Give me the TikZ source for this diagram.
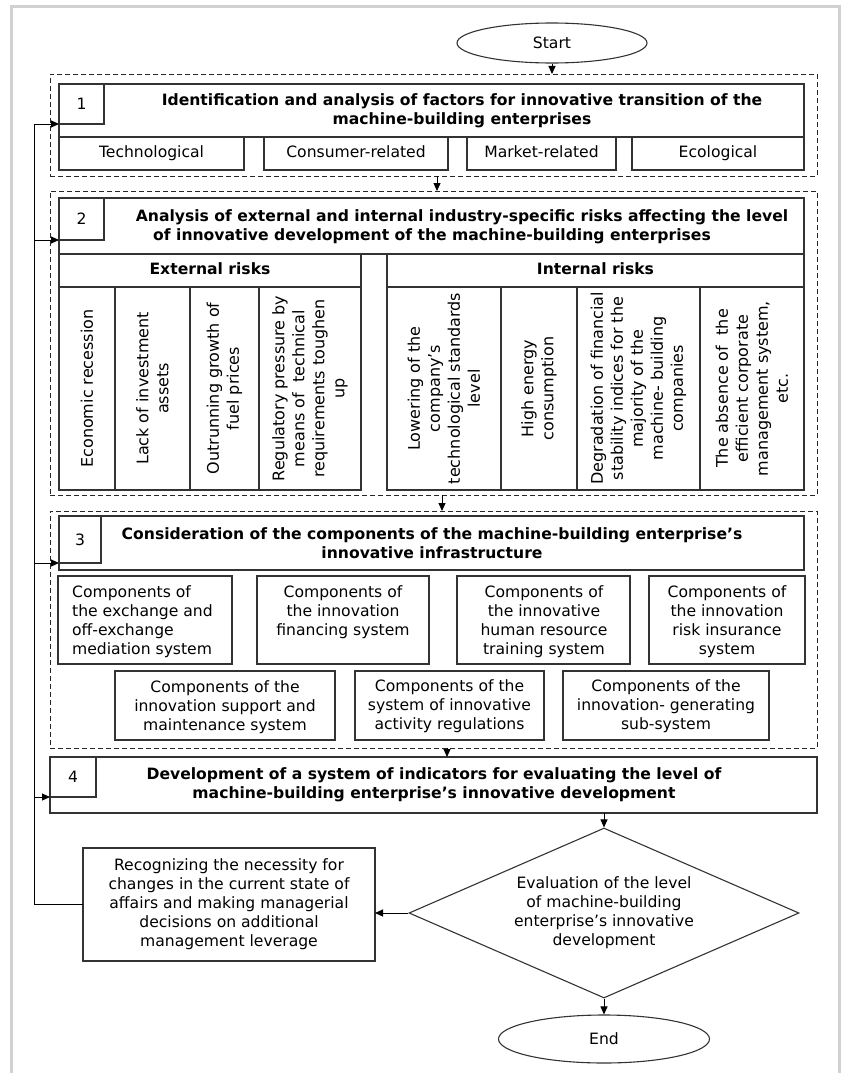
\documentclass[tikz,border=0pt]{standalone}
\usepackage{fontspec}
\setmainfont{DejaVu Sans}
\usetikzlibrary{arrows.meta,shapes.geometric}
\newcommand\mybox[6]{\node[box,minimum width={(#4-#2)*1pt},minimum height={(#5-#3)*1pt}] (#1) at ({(#2+#4)/2},{(#3+#5)/2}) {#6};}
\newcommand\mydbox[5]{\node[dbox,minimum width={(#4-#2)*1pt},minimum height={(#5-#3)*1pt}] (#1) at ({(#2+#4)/2},{(#3+#5)/2}) {};}
\begin{document}
\begin{tikzpicture}[x=1pt,y=-1pt,
  box/.style={draw=black!80, line width=1.1pt, inner sep=0pt, outer sep=0pt, align=center, font=\fontsize{15.6}{19}\selectfont},
  dbox/.style={draw=black!85, line width=1pt, dash pattern=on 5pt off 3pt, inner sep=0pt, outer sep=0pt},
  txt/.style={align=center, inner sep=0pt, font=\fontsize{15.6}{19}\selectfont},
  btxt/.style={align=center, inner sep=0pt, font=\fontsize{15.6}{19}\selectfont\bfseries},
  rtxt/.style={align=center, inner sep=0pt, rotate=90, font=\fontsize{16}{20}\selectfont},
  arr/.style={-{Triangle[length=8pt,width=7pt]}, line width=1pt, draw=black},
  conn/.style={line width=1pt, draw=black},
  oval/.style={ellipse, draw=black!80, line width=1.1pt, inner sep=0pt, font=\fontsize{15.6}{19}\selectfont}]
\useasboundingbox (0,0) rectangle (849,1073);
\fill[white] (0,0) rectangle (849,1073);
\draw[black!18, line width=3pt] (11,1090) -- (11,7) -- (839,7) -- (839,1090);

% Start
\node[oval, minimum width=190pt, minimum height=40pt] (start) at (552,43) {Start};

% ---- Block 1
\mydbox{d1}{50}{74}{817}{176}
\mybox{h1}{59}{84}{804}{137}{}
\mybox{n1}{59}{84}{104}{124}{1}
\node[btxt] (h1t) at (462,110.5) {Identification and analysis of factors for innovative transition of the\\machine-building enterprises};
\mybox{f1}{59}{137}{244}{170}{\strut Technological}
\mybox{f2}{264}{137}{448}{170}{\strut Consumer-related}
\mybox{f3}{467}{137}{616}{170}{\strut Market-related}
\mybox{f4}{632}{137}{804}{170}{\strut Ecological}

% ---- Block 2
\mydbox{d2}{50}{191}{817}{495}
\mybox{h2}{59}{198}{804}{254}{}
\mybox{n2}{59}{198}{104}{240}{2}
\node[btxt] (h2t) at (462,226.5) {Analysis of external and internal industry-specific risks affecting the level\\of innovative development of the machine-building enterprises\hspace*{60pt}};
\node[box, font=\fontsize{15.6}{19}\selectfont\bfseries, minimum width=302pt, minimum height=33pt] (ext) at (210,270.5) {\strut External risks};
\node[box, font=\fontsize{15.6}{19}\selectfont\bfseries, minimum width=417pt, minimum height=33pt] (int) at (595.5,270.5) {\strut Internal risks};
\mybox{e1}{59}{287}{115}{490}{}
\mybox{e2}{115}{287}{190}{490}{}
\mybox{e3}{190}{287}{259}{490}{}
\mybox{e4}{259}{287}{361}{490}{}
\mybox{i1}{387}{287}{501}{490}{}
\mybox{i2}{501}{287}{577}{490}{}
\mybox{i3}{577}{287}{700}{490}{}
\mybox{i4}{700}{287}{804}{490}{}
\node[rtxt] (e1t) at (e1) {Economic recession};
\node[rtxt] (e2t) at (e2) {Lack of investment\\assets};
\node[rtxt] (e3t) at (e3) {Outrunning growth of\\fuel prices};
\node[rtxt] (e4t) at (e4) {Regulatory pressure by\\means of\ \ technical\\requirements toughen\\up};
\node[rtxt] (i1t) at (i1) {Lowering of the\\company’s\\technological standards\\level};
\node[rtxt] (i2t) at (i2) {High energy\\consumption};
\node[rtxt] (i3t) at (i3) {Degradation of financial\\stability indices for the\\majority of the\\machine- building\\companies};
\node[rtxt] (i4t) at (i4) {The absence of\ \ the\\efficient corporate\\management system,\\etc.};

% ---- Block 3
\mydbox{d3}{50}{511}{817}{748}
\mybox{h3}{59}{516}{804}{570}{}
\mybox{n3}{59}{516}{101}{563}{3}
\node[btxt] (h3t) at (432,543) {Consideration of the components of the machine-building enterprise’s\\innovative infrastructure};
\mybox{c1}{58}{576}{232}{664}{}
\mybox{c2}{257}{576}{429}{664}{}
\mybox{c3}{457}{576}{630}{664}{}
\mybox{c4}{649}{576}{805}{664}{}
\node[txt, align=left, anchor=west] (c1t) at (72,621.5) {Components of\\the exchange and\\off-exchange\\mediation system};
\node[txt] (c2t) at (343,612) {Components of\\the innovation\\financing system};
\node[txt] (c3t) at (544,621.5) {Components of\\the innovative\\human resource\\training system};
\node[txt] (c4t) at (727,621.5) {Components of\\the innovation\\risk insurance\\system};
\mybox{c5}{115}{671}{335}{740}{}
\mybox{c6}{355}{671}{544}{740}{}
\mybox{c7}{563}{671}{769}{740}{}
\node[txt] (c5t) at (225,707) {Components of the\\innovation support and\\maintenance system};
\node[txt] (c6t) at (449.5,706) {Components of the\\system of innovative\\activity regulations};
\node[txt] (c7t) at (666,706) {Components of the\\innovation- generating\\sub-system};

% ---- Block 4
\mybox{h4}{50}{757}{817}{813}{}
\mybox{n4}{50}{757}{96}{797}{4}
\node[btxt] (h4t) at (434,784.5) {Development of a system of indicators for evaluating the level of\\machine-building enterprise’s innovative development};

% ---- Evaluation
\node[diamond, draw=black!80, line width=1.1pt, inner sep=0pt, minimum width=390pt, minimum height=170pt] (dia) at (604,913) {};
\node[txt] (diat) at (604,913) {Evaluation of the level\\of machine-building\\enterprise’s innovative\\development};
\mybox{lb}{83}{848}{375}{961}{Recognizing the necessity for\\changes in the current state of\\affairs and making managerial\\decisions on additional\\management leverage}
\node[oval, minimum width=211pt, minimum height=48pt] (end) at (604,1039) {End};

% ---- Connectors
\draw[arr] (start.south) -- (start.south |- d1.north);
\draw[arr] ([xshift=3.5pt]d1.south) -- ([xshift=3.5pt]d2.north);
\draw[arr] ([xshift=8.5pt]d2.south) -- ([xshift=8.5pt]d3.north);
\draw[arr] ([xshift=13.5pt]d3.south) -- ([xshift=13.5pt]h4.north);
\draw[arr] (h4.south -| dia.north) -- (dia.north);
\draw[arr] (dia.west) -- (dia.west -| lb.east);
\draw[arr] (dia.south) -- (end.north);
\coordinate (fb) at (34,124);
\draw[conn] (lb.west) -| (fb);
\draw[arr] (fb) -- (n1.south west);
\draw[arr] (fb |- n2.south west) -- (n2.south west);
\draw[arr] (fb |- n3.south west) -- (n3.south west);
\draw[arr] (fb |- n4.south west) -- (n4.south west);
\end{tikzpicture}
\end{document}
